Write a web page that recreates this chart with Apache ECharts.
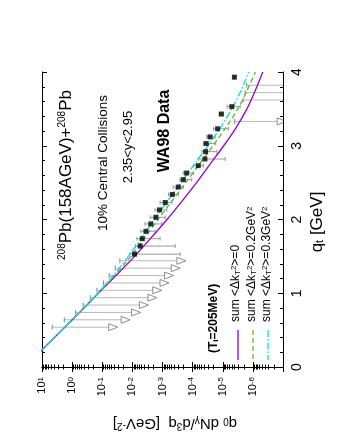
<!DOCTYPE html>
<html>
<head>
<meta charset="utf-8">
<script src="https://cdn.jsdelivr.net/npm/echarts@6.0.0/dist/echarts.min.js"></script>
<style>
  html, body { margin: 0; padding: 0; background: #fff; }
  #chart { width: 346px; height: 448px; }
</style>
</head>
<body>
<div id="chart"></div>
<script>
// model curves: q_t [GeV] vs q0 dN/d3q
const curveQt = [0.2, 0.5, 0.75, 1.0, 1.25, 1.5, 1.75, 2.0, 2.25, 2.5, 2.75, 3.0, 3.25, 3.5, 3.75, 4.0];
const sumDk0 = [12, 2.19, 0.537, 0.135, 0.0331, 8.5e-3, 2.4e-3, 7.1e-4, 2.24e-4, 7.4e-5, 2.63e-5, 9.3e-6, 3.55e-6, 1.58e-6, 8.3e-7, 4.7e-7];
const sumDk02 = [12, 2.19, 0.537, 0.135, 0.0372, 0.0112, 3.98e-3, 1.41e-3, 4.9e-4, 1.7e-4, 6.0e-5, 2.1e-5, 7.8e-6, 3.16e-6, 1.55e-6, 8.3e-7];
const sumDk03 = [12, 2.24, 0.55, 0.141, 0.0417, 0.0135, 5.1e-3, 1.86e-3, 6.8e-4, 2.45e-4, 8.7e-5, 3.1e-5, 1.17e-5, 5.0e-6, 2.45e-6, 1.38e-6];

// WA98 data points with error bars
const dataQt = [1.53, 1.64, 1.74, 1.84, 1.94, 2.03, 2.13, 2.23, 2.34, 2.44, 2.54, 2.63, 2.73, 2.82, 2.92, 3.03, 3.12, 3.23, 3.43, 3.53, 3.93];
const dataVal = [8.5e-3, 5.5e-3, 4.7e-3, 3.55e-3, 2.45e-3, 1.66e-3, 1.26e-3, 8.1e-4, 4.7e-4, 3.0e-4, 2.04e-4, 1.58e-4, 6.5e-5, 3.9e-5, 3.7e-5, 3.55e-5, 2.63e-5, 1.48e-5, 1.12e-5, 5.0e-6, 4.1e-6];
const dataHi = [1.26e-2, 7.9e-3, 7.1e-3, 5.2e-3, 3.8e-3, 2.57e-3, 1.78e-3, 1.2e-3, 6.3e-4, 4.4e-4, 2.63e-4, 2.04e-4, 9.3e-5, 6.5e-5, 4.9e-5, 4.4e-5, 3.4e-5, 2.04e-5, 1.26e-5, 7.2e-6, 4.1e-6];
const dataLo = [2.6e-4, 3.8e-4, 1.2e-3, 1.78e-3, 1.05e-3, 8.1e-4, 7.2e-4, 4.9e-4, 2.95e-4, 2.04e-4, 1.07e-4, 9.3e-5, 4.4e-5, 8.3e-6, 1.58e-5, 1.78e-5, 1.78e-5, 6.5e-6, 9.5e-6, 2.63e-6, 4.1e-6];

// upper limits (start value, arrow end)
const ulQt = [0.54, 0.64, 0.74, 0.84, 0.94, 1.04, 1.14, 1.24, 1.34, 1.44, 3.33, 3.62, 3.72, 3.82];
const ulVal = [4.6, 1.82, 0.76, 0.43, 0.25, 0.15, 0.091, 0.059, 0.037, 0.026, 4.0e-6, 2.1e-6, 1.8e-6, 1.6e-6];
const ulEnd = [4.5e-2, 1.74e-2, 7.8e-3, 4.3e-3, 2.24e-3, 1.55e-3, 8.9e-4, 6.3e-4, 3.8e-4, 2.45e-4, 1.15e-7, 1e-8, 1e-8, 1e-8];

// tick labels
const qtTicks = [0, 1, 2, 3, 4];
const qtLabels = ['0', '1', '2', '3', '4'];
const logTicks = [10, 1, 0.1, 0.01, 1e-3, 1e-4, 1e-5, 1e-6];
const logExps = ['1', '0', '-1', '-2', '-3', '-4', '-5', '-6'];

const FONT = "'Liberation Sans', Arial, sans-serif";
const chart = echarts.init(document.getElementById('chart'));

function renderErrorBar(params, api) {
  const q = api.value(0);
  const a = api.coord([api.value(1), q]);
  const b = api.coord([api.value(2), q]);
  const st = { stroke: '#9a9a9a', lineWidth: 1 };
  return {
    type: 'group',
    children: [
      { type: 'line', shape: { x1: a[0], y1: a[1], x2: b[0], y2: b[1] }, style: st },
      { type: 'line', shape: { x1: a[0], y1: a[1] - 2, x2: a[0], y2: a[1] + 2 }, style: st },
      { type: 'line', shape: { x1: b[0], y1: b[1] - 2, x2: b[0], y2: b[1] + 2 }, style: st }
    ]
  };
}

function renderLimit(params, api) {
  const q = api.value(0);
  const a = api.coord([api.value(1), q]);
  const b = api.coord([api.value(2), q]);
  const y = a[1];
  return {
    type: 'group',
    children: [
      { type: 'line', shape: { x1: a[0], y1: y, x2: b[0] - 4, y2: y }, style: { stroke: '#b8b8b8', lineWidth: 1 } },
      { type: 'line', shape: { x1: a[0], y1: y - 2.5, x2: a[0], y2: y + 2.5 }, style: { stroke: '#888', lineWidth: 1 } },
      { type: 'polygon', shape: { points: [[b[0] - 4, y - 3.5], [b[0] + 5, y], [b[0] - 4, y + 3.5]] },
        style: { fill: '#fff', stroke: '#8c8c8c', lineWidth: 1 } }
    ]
  };
}

const logAxisBase = {
  type: 'log',
  logBase: 10,
  min: 1e-7,
  max: 10,
  inverse: true,
  axisLine: { show: true, lineStyle: { color: '#000', width: 1 } },
  axisTick: { show: true, inside: true, length: 5, lineStyle: { color: '#000' } },
  minorTick: { show: true, splitNumber: 9, length: 2.5, lineStyle: { color: '#000' } },
  axisLabel: { show: false },
  splitLine: { show: false },
  minorSplitLine: { show: false }
};
const qtAxisBase = {
  type: 'value',
  min: 0,
  max: 4,
  interval: 1,
  axisLine: { show: true, onZero: false, lineStyle: { color: '#000', width: 1 } },
  axisTick: { show: true, inside: true, length: 5, lineStyle: { color: '#000' } },
  minorTick: { show: true, splitNumber: 5, length: 3, lineStyle: { color: '#000' } },
  axisLabel: { show: false },
  splitLine: { show: false }
};

chart.setOption({
  animation: false,
  backgroundColor: '#fff',
  grid: { left: 42, right: 63, top: 72, bottom: 81 },
  xAxis: [
    Object.assign({}, logAxisBase, { position: 'bottom' }),
    Object.assign({}, logAxisBase, { position: 'top' })
  ],
  yAxis: [
    Object.assign({}, qtAxisBase, { position: 'right' }),
    Object.assign({}, qtAxisBase, { position: 'left' })
  ],
  series: [
    {
      type: 'custom', name: 'limits', renderItem: renderLimit, clip: true, z: 1,
      encode: { x: [1, 2], y: 0 },
      data: ulQt.map((q, i) => [q, ulVal[i], ulEnd[i]])
    },
    {
      type: 'custom', name: 'errors', renderItem: renderErrorBar, clip: true, z: 2,
      encode: { x: [1, 2], y: 0 },
      data: dataQt.map((q, i) => [q, dataHi[i], dataLo[i]])
    },
    {
      type: 'line', name: 'sum dk0', symbol: 'none', smooth: 0.3, z: 3,
      lineStyle: { color: '#9400d3', width: 1.3 },
      data: curveQt.map((q, i) => [sumDk0[i], q])
    },
    {
      type: 'line', name: 'sum dk0.2', symbol: 'none', smooth: 0.3, z: 3,
      lineStyle: { color: '#5cb82e', width: 1.3, type: [5, 3] },
      data: curveQt.map((q, i) => [sumDk02[i], q])
    },
    {
      type: 'line', name: 'sum dk0.3', symbol: 'none', smooth: 0.3, z: 3,
      lineStyle: { color: '#00e0f0', width: 1.3, type: [7, 2, 1.5, 2] },
      data: curveQt.map((q, i) => [sumDk03[i], q])
    },
    {
      type: 'scatter', name: 'WA98', symbol: 'rect', symbolSize: 5, z: 4,
      itemStyle: { color: '#000' },
      data: dataQt.map((q, i) => [dataVal[i], q])
    }
  ]
});

// rotated text helper (reads bottom to top)
function vtext(x, y, txt, align, extra) {
  return {
    type: 'text', x: x, y: y, rotation: Math.PI / 2,
    style: Object.assign({ text: txt, align: align, verticalAlign: 'middle', fill: '#000', fontFamily: FONT }, extra)
  };
}
const supRich = {
  b: { fontSize: 12, fontFamily: FONT, verticalAlign: 'bottom' },
  sub: { fontSize: 8, fontFamily: FONT, verticalAlign: 'bottom' },
  sup: { fontSize: 8, fontFamily: FONT, verticalAlign: 'top' }
};

const graphics = [];
// tick labels placed through the axis scales
logTicks.forEach((v, i) => {
  const p = chart.convertToPixel({ xAxisIndex: 0, yAxisIndex: 0 }, [v, 0]);
  graphics.push({
    type: 'text', x: p[0], y: p[1] + 10, rotation: Math.PI / 2,
    style: {
      text: '{b|10}{sup|' + logExps[i] + '}', align: 'right', verticalAlign: 'middle', fill: '#000',
      rich: {
        b: { fontSize: 11, fontFamily: FONT, verticalAlign: 'bottom' },
        sup: { fontSize: 8, fontFamily: FONT, verticalAlign: 'top' }
      }
    }
  });
});
qtTicks.forEach((q, i) => {
  const p = chart.convertToPixel({ xAxisIndex: 0, yAxisIndex: 0 }, [1e-7, q]);
  graphics.push({
    type: 'text', x: p[0] + 7, y: p[1], rotation: Math.PI / 2,
    style: { text: qtLabels[i], align: 'center', verticalAlign: 'top', fill: '#000', fontSize: 14, fontFamily: FONT }
  });
});

graphics.push(
  vtext(66, 175, '{sup|208}{b|Pb(158AGeV)+}{sup|208}{b|Pb}', 'center', {
    rich: {
      b: { fontSize: 17, fontFamily: FONT, verticalAlign: 'bottom' },
      sup: { fontSize: 10, fontFamily: FONT, verticalAlign: 'top' }
    }
  }),
  vtext(103, 163, '10% Central Collisions', 'center', { fontSize: 13.5 }),
  vtext(128, 147, '2.35<y<2.95', 'center', { fontSize: 13 }),
  vtext(165, 131, 'WA98 Data', 'center', { fontSize: 16, fontWeight: 'bold' }),
  vtext(214, 353, '{b|(T}{sub|i}{b|=205MeV)}', 'left', {
    rich: {
      b: { fontSize: 12, fontWeight: 'bold', fontFamily: FONT, verticalAlign: 'bottom' },
      sub: { fontSize: 8, fontWeight: 'bold', fontFamily: FONT, verticalAlign: 'bottom' }
    }
  }),
  vtext(236, 322, '{b|sum <Δk}{sub|T}{sup|2}{b|>=0}', 'left', { rich: supRich }),
  vtext(251.5, 322, '{b|sum <Δk}{sub|T}{sup|2}{b|>=0.2GeV}{sup|2}', 'left', { rich: supRich }),
  vtext(266.5, 322, '{b|sum <Δk}{sub|T}{sup|2}{b|>=0.3GeV}{sup|2}', 'left', { rich: supRich }),
  { type: 'line', shape: { x1: 238, y1: 330, x2: 238, y2: 360 }, style: { stroke: '#9400d3', lineWidth: 1.3 } },
  { type: 'line', shape: { x1: 253, y1: 330, x2: 253, y2: 360 }, style: { stroke: '#5cb82e', lineWidth: 1.3, lineDash: [5, 3] } },
  { type: 'line', shape: { x1: 268, y1: 330, x2: 268, y2: 360 }, style: { stroke: '#00e0f0', lineWidth: 1.3, lineDash: [7, 2, 1.5, 2] } },
  vtext(317, 222, '{b|q}{sub|t}{b| [GeV]}', 'center', {
    rich: {
      b: { fontSize: 17, fontFamily: FONT, verticalAlign: 'bottom' },
      sub: { fontSize: 11, fontFamily: FONT, verticalAlign: 'bottom' }
    }
  }),
  {
    type: 'text', x: 175, y: 423, rotation: Math.PI,
    style: {
      text: '{b|q}{sub|0}{b| dN}{sub|γ}{b|/d}{sup|3}{b|q  [GeV}{sup|-2}{b|]}', align: 'center', verticalAlign: 'middle', fill: '#000',
      rich: {
        b: { fontSize: 15, fontFamily: FONT, verticalAlign: 'bottom' },
        sub: { fontSize: 10, fontFamily: FONT, verticalAlign: 'bottom' },
        sup: { fontSize: 10, fontFamily: FONT, verticalAlign: 'top' }
      }
    }
  }
);

chart.setOption({ graphic: graphics });
</script>
</body>
</html>
